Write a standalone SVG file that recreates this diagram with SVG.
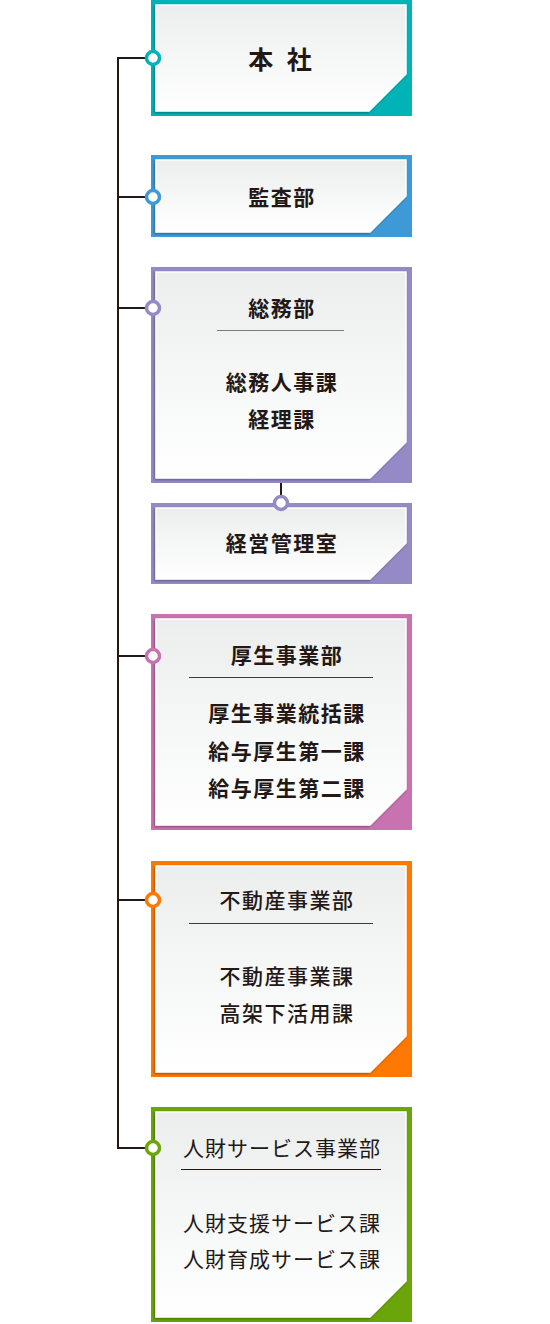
<svg xmlns="http://www.w3.org/2000/svg" width="550" height="1324" viewBox="0 0 550 1324">
<defs>
<linearGradient id="pg" x1="0" y1="0" x2="0" y2="1">
<stop offset="0" stop-color="#eceeee"/>
<stop offset="1" stop-color="#ffffff"/>
</linearGradient>
<filter id="sh" x="-5%" y="-5%" width="110%" height="110%">
<feDropShadow dx="-1" dy="1.2" stdDeviation="0.8" flood-color="#000" flood-opacity="0.35"/>
</filter>
</defs>
<style>
.panel{fill:url(#pg);stroke:#fff;stroke-width:1.5;filter:url(#sh)}
.t{font-family:"Noto Sans CJK JP","Noto Sans",sans-serif;font-size:21px;font-weight:700;fill:#231815;text-anchor:middle;letter-spacing:1.5px}
.m{font-weight:500}
.r{font-weight:400;letter-spacing:1px}
.conn{stroke:#231815;stroke-width:2;fill:none}
.dot{fill:#fff;stroke-width:3.5}
.sep{stroke-width:1}
</style>
<g id="connectors">
<line class="conn" x1="118" y1="57" x2="118" y2="1149"/>
<line class="conn" x1="117" y1="58" x2="148" y2="58"/>
<line class="conn" x1="117" y1="197" x2="148" y2="197"/>
<line class="conn" x1="117" y1="308" x2="148" y2="308"/>
<line class="conn" x1="117" y1="656" x2="148" y2="656"/>
<line class="conn" x1="117" y1="900" x2="148" y2="900"/>
<line class="conn" x1="117" y1="1148" x2="148" y2="1148"/>
<line class="conn" x1="281" y1="482" x2="281" y2="498"/>
</g>
<g id="honsha">
<rect x="151" y="0" width="261" height="116" fill="#00b3b6"/>
<polygon class="panel" points="156,5 406,5 406,74 369,111 156,111"/>
<circle class="dot" cx="153" cy="58" r="6.5" stroke="#00b3b6"/>
<text class="t" x="282" y="69" style="font-size:25px;letter-spacing:4px">本 社</text>
</g>
<g id="kansa">
<rect x="151" y="155" width="261" height="82" fill="#3e9ad6"/>
<polygon class="panel" points="156,160 406,160 406,196 370,232 156,232"/>
<circle class="dot" cx="153" cy="197" r="6.5" stroke="#3e9ad6"/>
<text class="t" x="282" y="205">監査部</text>
</g>
<g id="somu">
<rect x="151" y="267" width="261" height="216" fill="#958ac5"/>
<polygon class="panel" points="156,272 406,272 406,442 370,478 156,478"/>
<circle class="dot" cx="153" cy="308" r="6.5" stroke="#958ac5"/>
<text class="t" x="282" y="316">総務部</text>
<line class="sep" x1="217" y1="330.5" x2="344" y2="330.5" stroke="#7d7977"/>
<text class="t" x="282" y="390">総務人事課</text>
<text class="t" x="282" y="427">経理課</text>
</g>
<g id="keiei">
<rect x="151" y="503" width="261" height="81" fill="#958ac5"/>
<polygon class="panel" points="156,508 406,508 406,543 370,579 156,579"/>
<circle class="dot" cx="281" cy="503" r="6.5" stroke="#958ac5"/>
<text class="t" x="282" y="551">経営管理室</text>
</g>
<g id="kosei">
<rect x="151" y="614" width="261" height="216" fill="#c872b0"/>
<polygon class="panel" points="156,619 406,619 406,789 370,825 156,825"/>
<circle class="dot" cx="153" cy="656" r="6.5" stroke="#c872b0"/>
<text class="t" x="287" y="663">厚生事業部</text>
<line class="sep" x1="189" y1="677.5" x2="373" y2="677.5" stroke="#3e3a39"/>
<text class="t" x="287" y="721">厚生事業統括課</text>
<text class="t" x="287" y="759">給与厚生第一課</text>
<text class="t" x="287" y="796">給与厚生第二課</text>
</g>
<g id="fudosan">
<rect x="151" y="861" width="261" height="216" fill="#ff7800"/>
<polygon class="panel" points="156,866 406,866 406,1036 370,1072 156,1072"/>
<circle class="dot" cx="153" cy="900" r="6.5" stroke="#ff7800"/>
<text class="t m" x="287" y="908">不動産事業部</text>
<line class="sep" x1="189" y1="923.5" x2="373" y2="923.5" stroke="#3e3a39"/>
<text class="t m" x="287" y="984">不動産事業課</text>
<text class="t m" x="287" y="1021">高架下活用課</text>
</g>
<g id="jinzai">
<rect x="151" y="1107" width="261" height="215" fill="#6aa50a"/>
<polygon class="panel" points="156,1112 406,1112 406,1281 370,1317 156,1317"/>
<circle class="dot" cx="153" cy="1148" r="6.5" stroke="#6aa50a"/>
<text class="t r" x="282" y="1156">人財サービス事業部</text>
<line class="sep" x1="181" y1="1169.5" x2="381" y2="1169.5" stroke="#231815"/>
<text class="t r" x="282" y="1231">人財支援サービス課</text>
<text class="t r" x="282" y="1267">人財育成サービス課</text>
</g>
</svg>
